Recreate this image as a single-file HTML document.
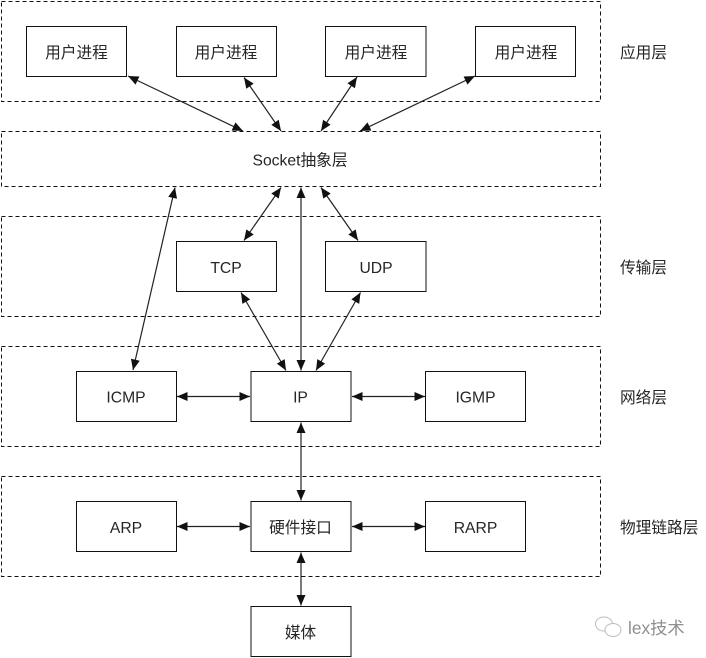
<!DOCTYPE html>
<html lang="zh">
<head>
<meta charset="utf-8">
<title>TCP/IP layers</title>
<style>
html,body{margin:0;padding:0;background:#fff;width:706px;height:658px;overflow:hidden}
svg{display:block}
text{font-family:"Liberation Sans","Noto Sans CJK SC",sans-serif;font-size:15.7px;fill:#262626;text-anchor:middle}
.l{text-anchor:start}
.d{fill:none;stroke:#111;stroke-width:1;stroke-dasharray:4 3}
.b{fill:none;stroke:#111;stroke-width:1}
.a{stroke:#222;stroke-width:1.2;fill:none;marker-start:url(#h);marker-end:url(#h)}
</style>
</head>
<body>
<svg width="706" height="658" viewBox="0 0 706 658" xmlns="http://www.w3.org/2000/svg">
<defs>
<marker id="h" markerUnits="userSpaceOnUse" markerWidth="13" markerHeight="11" refX="11" refY="5" orient="auto-start-reverse">
<path d="M0.5 0.5L11 5L0.5 9.5Z" fill="#111"/>
</marker>
</defs>

<rect class="d" x="1.5" y="1.5" width="599" height="100"/>
<rect class="d" x="1.5" y="131.5" width="599" height="55"/>
<rect class="d" x="1.5" y="216.5" width="599" height="100"/>
<rect class="d" x="1.5" y="346.5" width="599" height="100"/>
<rect class="d" x="1.5" y="476.5" width="599" height="100"/>

<rect class="b" x="26.5" y="26.5" width="100" height="50"/>
<rect class="b" x="176.5" y="26.5" width="100" height="50"/>
<rect class="b" x="325.5" y="26.5" width="100.5" height="50"/>
<rect class="b" x="475.5" y="26.5" width="100" height="50"/>
<rect class="b" x="176.5" y="241.5" width="100" height="50"/>
<rect class="b" x="325.5" y="241.5" width="100.5" height="50"/>
<rect class="b" x="76.5" y="371.5" width="100" height="50"/>
<rect class="b" x="251" y="371.5" width="100" height="50"/>
<rect class="b" x="425.5" y="371.5" width="100" height="50"/>
<rect class="b" x="76.5" y="501.5" width="100" height="50"/>
<rect class="b" x="251" y="501.5" width="100" height="50"/>
<rect class="b" x="425.5" y="501.5" width="100" height="50"/>
<rect class="b" x="251" y="606.5" width="100" height="50"/>

<line class="a" x1="128" y1="76" x2="243" y2="131"/>
<line class="a" x1="244" y1="77.5" x2="281" y2="131"/>
<line class="a" x1="357" y1="77" x2="321" y2="131"/>
<line class="a" x1="475" y1="76" x2="360" y2="131"/>
<line class="a" x1="175" y1="187.5" x2="133" y2="370"/>
<line class="a" x1="281" y1="187.5" x2="244" y2="240.5"/>
<line class="a" x1="301" y1="187.5" x2="301" y2="370.5"/>
<line class="a" x1="321" y1="187.5" x2="358" y2="240.5"/>
<line class="a" x1="241" y1="292.5" x2="286" y2="370.5"/>
<line class="a" x1="360.5" y1="292.5" x2="316" y2="370.5"/>
<line class="a" x1="177" y1="396.5" x2="250" y2="396.5"/>
<line class="a" x1="352" y1="396.5" x2="425" y2="396.5"/>
<line class="a" x1="301" y1="422.5" x2="301" y2="500.5"/>
<line class="a" x1="177" y1="526.5" x2="250" y2="526.5"/>
<line class="a" x1="352" y1="526.5" x2="425" y2="526.5"/>
<line class="a" x1="301" y1="552.5" x2="301" y2="605.5"/>

<text x="76.5" y="58">用户进程</text>
<text x="226" y="58">用户进程</text>
<text x="376" y="58">用户进程</text>
<text x="526" y="58">用户进程</text>
<text x="300" y="165.5">Socket抽象层</text>
<text x="226" y="273">TCP</text>
<text x="376" y="273">UDP</text>
<text x="126" y="402.5">ICMP</text>
<text x="300.5" y="402.5">IP</text>
<text x="475.5" y="402.5">IGMP</text>
<text x="126" y="533">ARP</text>
<text x="300.5" y="533">硬件接口</text>
<text x="475.5" y="533">RARP</text>
<text x="300.5" y="638">媒体</text>

<text class="l" x="620" y="58">应用层</text>
<text class="l" x="620" y="273">传输层</text>
<text class="l" x="620" y="403">网络层</text>
<text class="l" x="620" y="533">物理链路层</text>

<g fill="none" stroke="#bdbdbd" stroke-width="1">
<ellipse cx="604" cy="624" rx="8.5" ry="7"/>
<ellipse cx="613" cy="630" rx="8" ry="6.5" fill="#fff"/>
</g>
<text class="l" x="628" y="634" style="font-size:17.3px;fill:#8f8f8f">lex技术</text>
</svg>
</body>
</html>
